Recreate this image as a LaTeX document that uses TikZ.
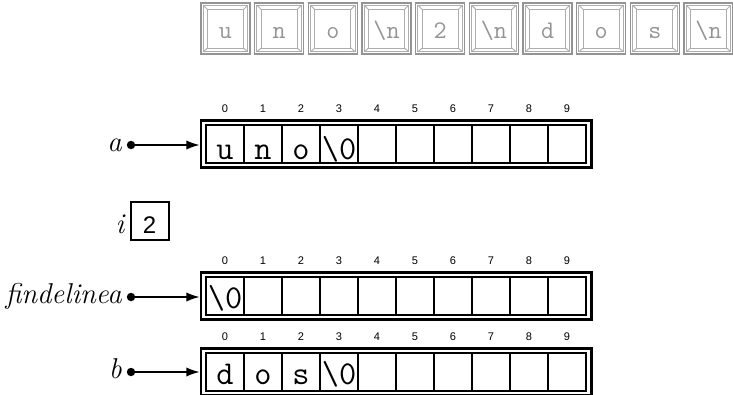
\documentclass[tikz,border=0pt]{standalone}
\usepackage{fontspec}
\newfontfamily\sansf{Liberation Sans}
\usetikzlibrary{arrows.meta,calc}
\newcommand\drawarr[4]{%
  \node[outerbox] (#1box) at (396.25, #2+19) {};
  \foreach \c [count=\j from 0] in {#3} {
    \node[cell] (#1c\j) at (225+38*\j, #2+19) {};
    \node[celltext, anchor=base] (#1t\j) at (225+38*\j, #2+#4) {\c};
    \node[idx] (#1i\j) at (225+38*\j, #2-16) {\j};
  }
}
\begin{document}
\begin{tikzpicture}[x=0.75pt,y=-0.75pt,
  keyout/.style={draw=black!42, line width=1.1pt},
  keyin/.style={draw=black!32, line width=0.7pt},
  keytext/.style={font=\ttfamily\fontsize{19}{19}\selectfont, text=black!42, inner sep=0},
  outerbox/.style={draw, line width=2pt, minimum width=292.9pt, minimum height=35.2pt, inner sep=0},
  cell/.style={draw, line width=1.1pt, minimum width=28.5pt, minimum height=28.5pt, inner sep=0},
  celltext/.style={font=\ttfamily\fontsize{25}{25}\selectfont, inner sep=0},
  idx/.style={font=\sansf\fontsize{8.3}{8.3}\selectfont, inner sep=0},
  lbl/.style={font=\itshape\fontsize{21.5}{21.5}\selectfont, inner sep=0},
  dotn/.style={circle, fill, inner sep=0, minimum size=6.3pt},
  ptr/.style={line width=1.2pt, -{Latex[length=10pt,width=7pt]}},
]
\useasboundingbox (0,0) rectangle (733,394);
% keys
\foreach \t [count=\i from 0] in {u,n,o,{\textbackslash n},2,{\textbackslash n},d,o,s,{\textbackslash n}} {
  \pgfmathsetmacro\xl{201+53.67*\i}
  \draw[keyout] (\xl,3) rectangle (\xl+49,54);
  \draw[keyin] (\xl+2.2,5.2) rectangle (\xl+46.8,51.8);
  \draw[keyin] (\xl+6.5,9.5) rectangle (\xl+42.5,48);
  \draw[keyin] (\xl+2.2,5.2) -- (\xl+6.5,9.5) (\xl+46.8,5.2) -- (\xl+42.5,9.5)
               (\xl+2.2,51.8) -- (\xl+6.5,48) (\xl+46.8,51.8) -- (\xl+42.5,48);
  \node[keytext, anchor=base] (key\i) at (\xl+24.5,38) {\t};
}
% arrays
\drawarr{a}{125}{u,n,o,{\textbackslash 0},{},{},{},{},{},{}}{34}
\drawarr{f}{277}{{\textbackslash 0},{},{},{},{},{},{},{},{},{}}{31}
\drawarr{b}{353}{d,o,s,{\textbackslash 0},{},{},{},{},{},{}}{31}
% pointers
\node[dotn] (adot) at (131,145) {};
\node[dotn] (fdot) at (131,297) {};
\node[dotn] (bdot) at (131,372) {};
\node[lbl, anchor=base east] (alab) at ($(adot)+(-9,6)$) {a};
\node[lbl, anchor=base east] (flab) at ($(fdot)+(-9,6)$) {findelinea};
\node[lbl, anchor=base east] (blab) at ($(bdot)+(-9,6)$) {b};
\draw[ptr] (adot) -- (adot -| abox.west);
\draw[ptr] (fdot) -- (fdot -| fbox.west);
\draw[ptr] (bdot) -- (bdot -| bbox.west);
% i
\node[draw, line width=1.5pt, minimum size=28.5pt, inner sep=0] (ibox) at (149.5,220.5) {};
\node[font=\sansf\fontsize{18}{18}\selectfont, inner sep=0, anchor=base] (itext) at (149.5,233) {2};
\node[lbl, anchor=base east] (ilab) at ($(ibox.west |- itext.base)+(-5,0)$) {i};
\end{tikzpicture}
\end{document}
